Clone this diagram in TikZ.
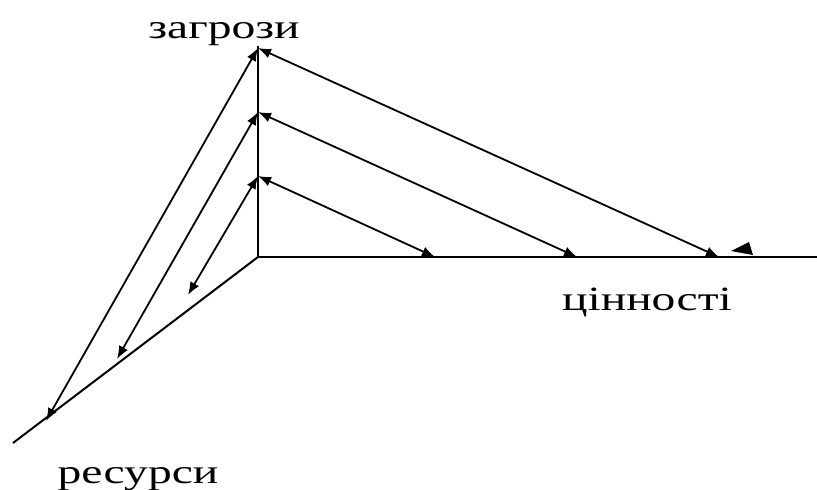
\documentclass[tikz,border=0pt]{standalone}
\usepackage{fontspec}
\setmainfont{Liberation Serif}
\usetikzlibrary{arrows.meta}
\begin{document}
\begin{tikzpicture}[x=1pt,y=-1pt,
  axis/.style={line width=2pt},
  link/.style={line width=1.8pt,{Latex[length=13pt,width=10pt]}-{Latex[length=13pt,width=10pt]}},
  lbl/.style={font=\fontsize{34}{38}\selectfont,anchor=base,xscale=1.4,inner sep=0pt}]
\useasboundingbox (0,0) rectangle (817,490);
\coordinate (O) at (258,257);
\coordinate (T) at (258,46);
\coordinate (H) at (817,257);
\coordinate (D) at (13,443);
\coordinate (A3) at (258,48);
\coordinate (A2) at (258,112);
\coordinate (A1) at (258,176);
\coordinate (R3) at (719,257);
\coordinate (R2) at (577,257);
\coordinate (R1) at (435,257);
\coordinate (L3) at (46,421);
\coordinate (L2) at (117,359);
\coordinate (L1) at (188,295);
\draw[axis] (T) -- (O) -- (H);
\draw[axis] (O) -- (D);
\draw[link] (A3) -- (R3);
\draw[link] (A2) -- (R2);
\draw[link] (A1) -- (R1);
\draw[link] (A3) -- (L3);
\draw[link] (A2) -- (L2);
\draw[link] (A1) -- (L1);
\fill (731,251) -- (749,242) -- (753,255) -- cycle;
\node[lbl] (zag) at (224,38) {загрози};
\node[lbl] (cin) at (647,310) {цінності};
\node[lbl] (res) at (138,483) {ресурси};
\end{tikzpicture}
\end{document}
